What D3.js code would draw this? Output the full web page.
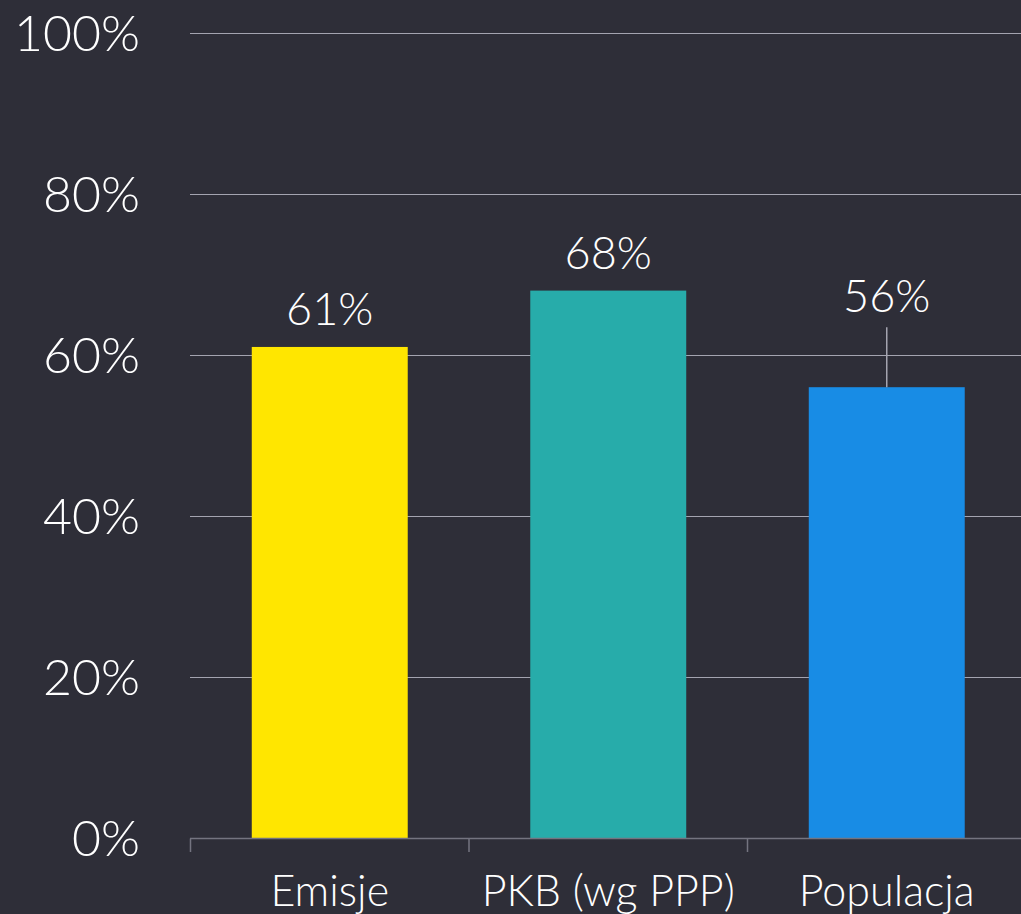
<!DOCTYPE html>
<html>
<head>
<meta charset="utf-8">
<script src="https://cdn.jsdelivr.net/npm/d3@7"></script>
<style>
  html, body { margin: 0; padding: 0; background: #2e2e38; }
  svg { display: block; }
  text { font-family: Lato, "Noto Sans", sans-serif; font-weight: 300; fill: #fff; }
</style>
</head>
<body>
<div id="chart"></div>
<script>
// chart data
var categories = ["Emisje", "PKB (wg PPP)", "Populacja"];
var values = [61, 68, 56];
var colors = ["#ffe600", "#27acaa", "#188ce5"];
var yTicks = [0, 20, 40, 60, 80, 100];

var width = 1021,
    height = 914;

var svg = d3.select("#chart")
  .append("svg")
  .attr("width", width)
  .attr("height", height);

svg.append("rect")
  .attr("width", width)
  .attr("height", height)
  .attr("fill", "#2e2e38");

var x = d3.scaleBand()
  .domain(categories)
  .range([190.5, 1026])
  .paddingInner(0.44)
  .paddingOuter(0.22);

var y = d3.scaleLinear()
  .domain([0, 100])
  .range([838, 33]);

// gridlines
svg.append("g")
  .selectAll("line")
  .data(yTicks.filter(function(t) { return t > 0; }))
  .enter()
  .append("line")
  .attr("x1", 190)
  .attr("x2", width)
  .attr("y1", function(d) { return Math.round(y(d)) + 0.5; })
  .attr("y2", function(d) { return Math.round(y(d)) + 0.5; })
  .attr("stroke", "#a4a4b0")
  .attr("stroke-width", 1);

// y tick labels
svg.append("g")
  .selectAll("text")
  .data(yTicks)
  .enter()
  .append("text")
  .attr("x", 140)
  .attr("y", function(d) { return y(d) + 18; })
  .attr("text-anchor", "end")
  .style("font-size", "50px")
  .text(function(d) { return d + "%"; });

// bars
svg.append("g")
  .selectAll("rect")
  .data(categories)
  .enter()
  .append("rect")
  .attr("x", function(d) { return x(d); })
  .attr("width", x.bandwidth())
  .attr("y", function(d, i) { return y(values[i]); })
  .attr("height", function(d, i) { return y(0) - y(values[i]); })
  .attr("fill", function(d, i) { return colors[i]; });

// x axis baseline + ticks
var step = x.step();
var axis = svg.append("g").attr("stroke", "#747480").attr("stroke-width", 1.5);
axis.append("line")
  .attr("x1", 190).attr("x2", width)
  .attr("y1", 838.5).attr("y2", 838.5);
axis.selectAll(".tk")
  .data(categories)
  .enter()
  .append("line")
  .attr("class", "tk")
  .attr("x1", function(d) { return x(d) - x.paddingOuter() * step; })
  .attr("x2", function(d) { return x(d) - x.paddingOuter() * step; })
  .attr("y1", 838.5)
  .attr("y2", 852);

// category labels
svg.append("g")
  .selectAll("text")
  .data(categories)
  .enter()
  .append("text")
  .attr("x", function(d) { return x(d) + x.bandwidth() / 2; })
  .attr("y", 906)
  .attr("text-anchor", "middle")
  .style("font-size", "43px")
  .text(function(d) { return d; });

// value labels; the last one is lifted above the gridline with a leader
var lift = [0, 0, 53];

svg.append("g")
  .selectAll("line")
  .data(categories.filter(function(d, i) { return lift[i] > 0; }))
  .enter()
  .append("line")
  .attr("x1", function(d) { return x(d) + x.bandwidth() / 2; })
  .attr("x2", function(d) { return x(d) + x.bandwidth() / 2; })
  .attr("y1", function(d) { return y(values[categories.indexOf(d)]); })
  .attr("y2", function(d) { return y(values[categories.indexOf(d)]) - lift[categories.indexOf(d)] - 7; })
  .attr("stroke", "#a4a4b0")
  .attr("stroke-width", 1.5);

svg.append("g")
  .selectAll("text")
  .data(categories)
  .enter()
  .append("text")
  .attr("x", function(d) { return x(d) + x.bandwidth() / 2; })
  .attr("y", function(d, i) { return y(values[i]) - 22 - lift[i]; })
  .attr("text-anchor", "middle")
  .style("font-size", "45px")
  .text(function(d, i) { return values[i] + "%"; });
</script>
</body>
</html>
